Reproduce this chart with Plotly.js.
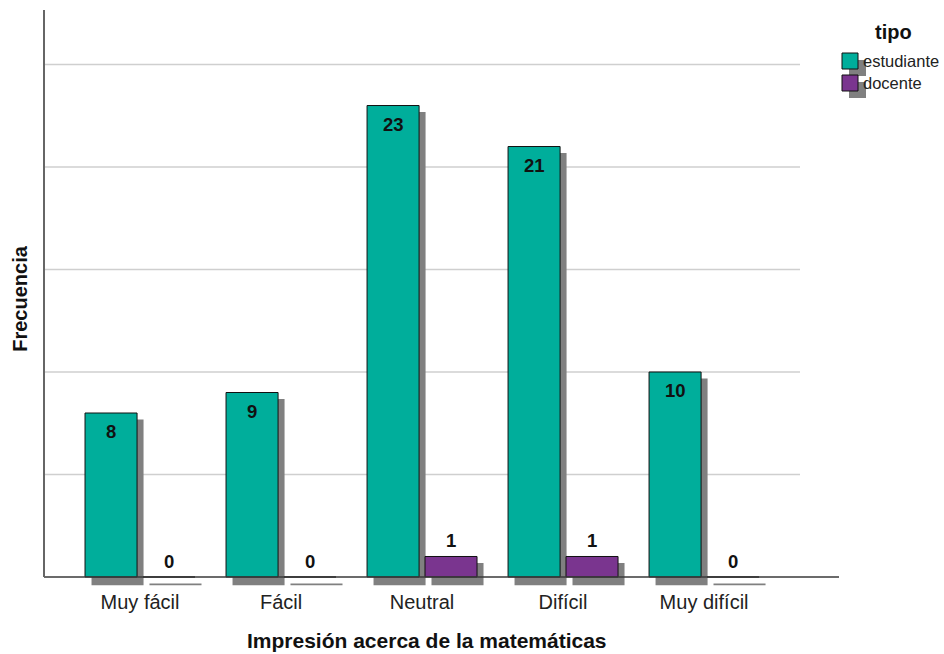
<!DOCTYPE html>
<html>
<head>
<meta charset="utf-8">
<script src="https://cdn.plot.ly/plotly-3.0.1.min.js"></script>
<style>
  html, body { margin: 0; padding: 0; background: #fff; }
  #chart { width: 944px; height: 654px; }
</style>
</head>
<body>
<div id="chart"></div>
<script>
// Impresión acerca de la matemáticas, frecuencia por tipo
const categories = ['Muy fácil', 'Fácil', 'Neutral', 'Difícil', 'Muy difícil'];
const estudiante = [8, 9, 23, 21, 10];
const docente = [0, 0, 1, 1, 0];
const seriesNames = ['estudiante', 'docente'];
const gridValues = [5, 10, 15, 20, 25];

const W = 944, H = 654;
const M = { l: 44, r: 105, t: 10, b: 66 };
const plotW = W - M.l - M.r, plotH = H - M.t - M.b;
const yRange = [-0.537, 27.66];
const xRange = [-0.681, 4.957];

const FONT = '"Liberation Sans", Arial, sans-serif';
const TEAL = '#00ae9b';
const PURPLE = '#7a358f';
const SHADOW = '#808080';

// bar geometry (category units)
const barW = 0.369;
const offEst = -0.39, offDoc = 0.021;
const shiftX = 0.046;      // shadow shift to the right
const drop = 0.32;         // shadow drop below
const pad = 0.08;          // keeps zero-height shadows visible as a thin line

const pxX = px => (px - M.l) / plotW;
const pxY = py => (H - M.b - py) / plotH;

function shadowTrace(vals, off) {
  return {
    type: 'bar', x: categories, y: vals.map(v => v + pad),
    base: vals.map(() => -drop - pad),
    offset: off + shiftX, width: barW,
    marker: { color: SHADOW, line: { width: 0 } },
    hoverinfo: 'skip', showlegend: false
  };
}
function frontTrace(vals, off, color, name) {
  return {
    type: 'bar', name: name, x: categories, y: vals,
    offset: off, width: barW,
    marker: { color: color, line: { color: '#111', width: 1 } },
    showlegend: false
  };
}

const traces = [
  shadowTrace(estudiante, offEst),
  shadowTrace(docente, offDoc),
  frontTrace(estudiante, offEst, TEAL, seriesNames[0]),
  frontTrace(docente, offDoc, PURPLE, seriesNames[1])
];

const shapes = [];
// horizontal grid
gridValues.forEach(g => shapes.push({
  type: 'line', xref: 'paper', yref: 'y', x0: 0, x1: pxX(800), y0: g, y1: g,
  line: { color: '#cfcfcf', width: 1.6 }, layer: 'below'
}));
// axis lines
shapes.push({ type: 'line', xref: 'paper', yref: 'y', x0: 0, x1: 1, y0: 0, y1: 0,
  line: { color: '#3a3a3a', width: 1.5 }, layer: 'above' });
shapes.push({ type: 'line', xref: 'paper', yref: 'paper', x0: 0, x1: 0, y0: pxY(577), y1: 1,
  line: { color: '#666', width: 2 }, layer: 'above' });

// value labels
const annotations = [];
categories.forEach((c, i) => {
  annotations.push({
    xref: 'x', yref: 'y', x: i + offEst + barW / 2, y: estudiante[i],
    text: '<b>' + estudiante[i] + '</b>', showarrow: false,
    yanchor: 'top', yshift: -6, font: { family: FONT, size: 18.5, color: '#111' }
  });
  annotations.push({
    xref: 'x', yref: 'y', x: i + offDoc + barW / 2, y: docente[i],
    text: '<b>' + docente[i] + '</b>', showarrow: false,
    yanchor: 'bottom', yshift: 3, font: { family: FONT, size: 18.5, color: '#111' }
  });
});

// x-axis title
annotations.push({
  xref: 'paper', yref: 'paper', x: pxX(427), y: pxY(640),
  text: '<b>Impresión acerca de la matemáticas</b>', showarrow: false,
  xanchor: 'center', yanchor: 'middle',
  font: { family: FONT, size: 21, color: '#111' }
});

// legend: title, swatches with shadow, labels
annotations.push({
  xref: 'paper', yref: 'paper', x: pxX(893), y: pxY(32), text: '<b>tipo</b>',
  showarrow: false, xanchor: 'center', yanchor: 'middle',
  font: { family: FONT, size: 20, color: '#111' }
});
const legendColors = [TEAL, PURPLE];
const legendY = [61, 83];
seriesNames.forEach((n, k) => {
  const yc = legendY[k];
  shapes.push({ type: 'rect', xref: 'paper', yref: 'paper',
    x0: pxX(849), x1: pxX(866), y0: pxY(yc - 1), y1: pxY(yc + 15),
    fillcolor: SHADOW, line: { width: 0 }, layer: 'above' });
});
seriesNames.forEach((n, k) => {
  const yc = legendY[k];
  shapes.push({ type: 'rect', xref: 'paper', yref: 'paper',
    x0: pxX(842), x1: pxX(858), y0: pxY(yc - 8), y1: pxY(yc + 8),
    fillcolor: legendColors[k], line: { color: '#111', width: 1 }, layer: 'above' });
  annotations.push({
    xref: 'paper', yref: 'paper', x: pxX(861), y: pxY(yc), text: n,
    showarrow: false, xanchor: 'left', yanchor: 'middle',
    font: { family: FONT, size: 16.5, color: '#222' }
  });
});

const layout = {
  width: W, height: H,
  margin: M,
  paper_bgcolor: '#fff', plot_bgcolor: '#fff',
  showlegend: false,
  barmode: 'overlay',
  font: { family: FONT, color: '#222' },
  xaxis: {
    type: 'category', range: xRange, fixedrange: true,
    showgrid: false, zeroline: false, showline: false, ticks: '',
    tickfont: { family: FONT, size: 20, color: '#222' },
    automargin: false
  },
  yaxis: {
    range: yRange, fixedrange: true,
    showgrid: false, zeroline: false, showline: false, ticks: '',
    showticklabels: false,
    title: { text: '<b>Frecuencia</b>', standoff: 10,
      font: { family: FONT, size: 20, color: '#111' } },
    automargin: false
  },
  shapes: shapes,
  annotations: annotations
};

Plotly.newPlot('chart', traces, layout, { displayModeBar: false, staticPlot: true });
</script>
</body>
</html>
